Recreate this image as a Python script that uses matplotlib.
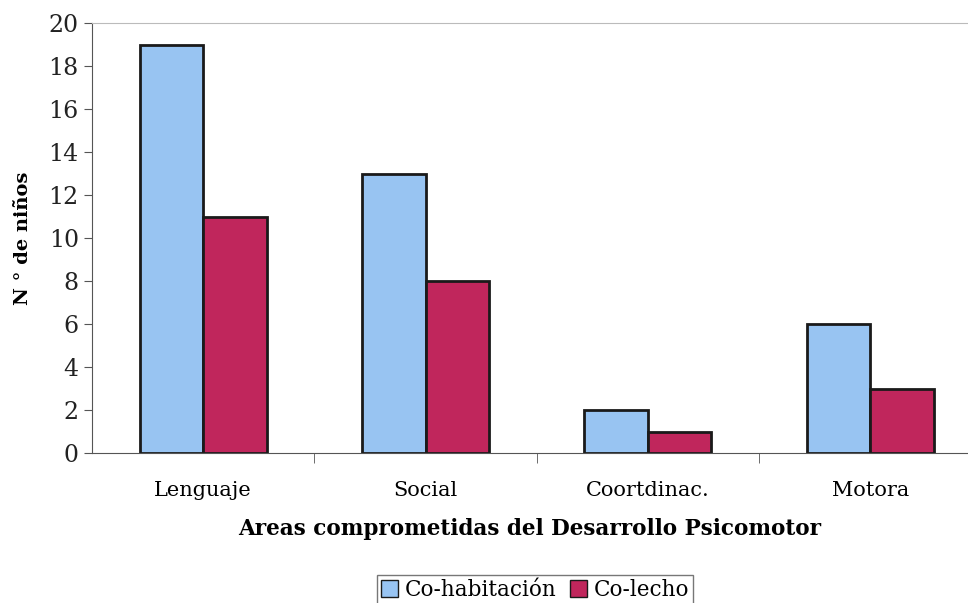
import numpy as np
import matplotlib.pyplot as plt
from matplotlib.patches import Patch

# ── Data ──────────────────────────────────────────────────────────────────────
CATEGORIES   = ["Lenguaje", "Social", "Coortdinac.", "Motora"]
COHABITACION = [19, 13, 2, 6]
COLECHO      = [11, 8, 1, 3]

BLUE = "#98c4f2"
RED  = "#c0265c"

plt.rcParams["font.family"] = ["DejaVu Serif"]

fig = plt.figure(figsize=(9.68, 6.03), dpi=100)
ax = fig.add_axes([92 / 968, 1 - 453 / 603, (968 - 92) / 968, (453 - 23) / 603])

x = np.arange(len(CATEGORIES))
w = 0.285
ax.bar(x - w / 2, COHABITACION, width=w, color=BLUE, edgecolor="#1a1a1a", linewidth=2)
ax.bar(x + w / 2, COLECHO, width=w, color=RED, edgecolor="#1a1a1a", linewidth=2)

ax.set_xlim(-0.5, 3.44)
ax.set_ylim(0, 20)
ax.set_yticks(range(0, 21, 2))
ax.tick_params(axis="y", labelsize=17, direction="out", length=6, color="#555555",
               labelcolor="#222222")
ax.set_xticks(x)
ax.set_xticklabels(CATEGORIES, fontsize=15)
ax.tick_params(axis="x", length=0, pad=20)
# separators between categories on the x axis
ax.set_xticks(np.arange(0.5, len(CATEGORIES) - 0.5, 1), minor=True)
ax.tick_params(axis="x", which="minor", length=7, direction="out", color="#555555")

for s in ["left", "bottom"]:
    ax.spines[s].set_color("#555555")
ax.spines["top"].set_color("#bbbbbb")
ax.spines["top"].set_linewidth(0.8)
ax.spines["right"].set_visible(False)

ax.set_ylabel("N ° de niños", fontsize=14, fontweight="bold", labelpad=12)
ax.set_xlabel("Areas comprometidas del Desarrollo Psicomotor", fontsize=15.5,
              fontweight="bold", labelpad=13)

handles = [Patch(facecolor=BLUE, edgecolor="#1a1a1a", label="Co-habitación"),
           Patch(facecolor=RED, edgecolor="#1a1a1a", label="Co-lecho")]
leg = fig.legend(handles=handles, loc="center", bbox_to_anchor=(535 / 968, 1 - 590 / 603),
                 ncol=2, fontsize=15.5, frameon=True, fancybox=False, handlelength=0.8,
                 handleheight=0.8, handletextpad=0.3, columnspacing=0.6,
                 borderpad=0.2, borderaxespad=0)
leg.get_frame().set_edgecolor("#555555")

plt.savefig("out.png", dpi=100)
plt.close()
